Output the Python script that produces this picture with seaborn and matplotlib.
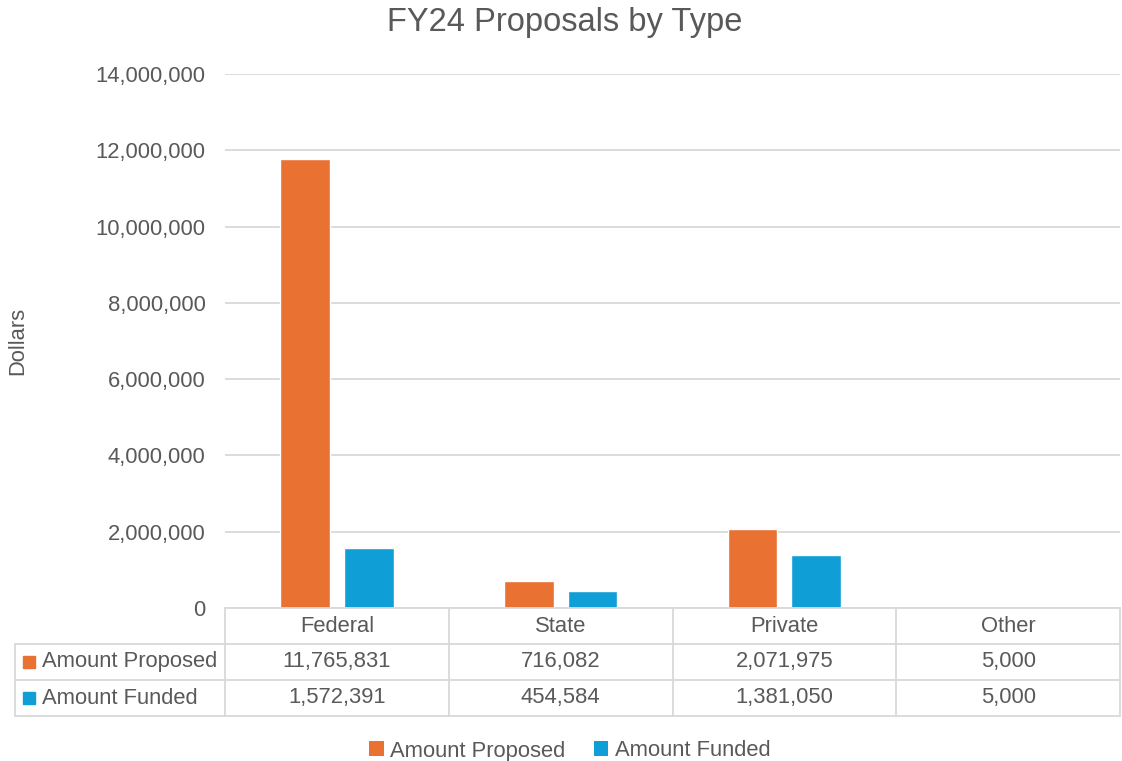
import numpy as np
import pandas as pd
import matplotlib.pyplot as plt
import matplotlib.transforms as mtransforms
from matplotlib.lines import Line2D
from matplotlib.patches import Patch
import seaborn as sns

categories = ['Federal', 'State', 'Private', 'Other']
series_names = ['Amount Proposed', 'Amount Funded']
amount_proposed = [11765831, 716082, 2071975, 5000]
amount_funded = [1572391, 454584, 1381050, 5000]
y_ticks = [0, 2000000, 4000000, 6000000, 8000000, 10000000, 12000000, 14000000]

colors = ['#E97132', '#0F9ED5']
text_color = '#595959'
line_color = '#D9D9D9'
fs = 15.8

df = pd.DataFrame({
    'Type': categories * 2,
    'Series': [series_names[0]] * 4 + [series_names[1]] * 4,
    'Dollars': amount_proposed + amount_funded,
})

sns.set_style('white')
plt.rcParams['font.family'] = ['Liberation Sans', 'DejaVu Sans']

W, H = 1122, 761
fig = plt.figure(figsize=(W / 100, H / 100), dpi=100)
ax = fig.add_axes([225 / W, 1 - 608 / H, (1120 - 225) / W, (608 - 74) / H])

sns.barplot(data=df, x='Type', y='Dollars', hue='Series', palette=colors,
            width=0.57, gap=0.22, legend=False, ax=ax, saturation=1)

ax.set_xlim(-0.5, 3.5)
ax.set_ylim(0, 14000000)
ax.set_yticks(y_ticks)
ax.set_yticklabels([f'{v:,}' for v in y_ticks], color=text_color, fontsize=fs)
ax.tick_params(axis='y', length=0, pad=14)
ax.set_xticks([])
ax.set_xlabel('')
ax.set_ylabel('')
ax.yaxis.grid(True, color=line_color, linewidth=1.3)
ax.set_axisbelow(True)
for s in ax.spines.values():
    s.set_visible(False)

fig.text(18 / W, 1 - 341 / H, 'Dollars', rotation=90, ha='center', va='center',
         color=text_color, fontsize=fs)
fig.text(565 / W, 1 - 22 / H, 'FY24 Proposals by Type', ha='center', va='center',
         color=text_color, fontsize=23.5)

# data table under the chart
trans = mtransforms.blended_transform_factory(ax.transData, fig.transFigure)
fy = lambda p: 1 - p / H
row_y = [626, 662, 698]
for i, cat in enumerate(categories):
    ax.text(i, fy(row_y[0]), cat, transform=trans, ha='center', va='center',
            color=text_color, fontsize=fs, clip_on=False)
    ax.text(i, fy(row_y[1]), f'{amount_proposed[i]:,}', transform=trans, ha='center',
            va='center', color=text_color, fontsize=fs, clip_on=False)
    ax.text(i, fy(row_y[2]), f'{amount_funded[i]:,}', transform=trans, ha='center',
            va='center', color=text_color, fontsize=fs, clip_on=False)

for name, col, y in zip(series_names, colors, row_y[1:]):
    fig.patches.append(plt.Rectangle((23 / W, fy(y + 6)), 12 / W, 12 / H,
                                     transform=fig.transFigure, color=col))
    fig.text(42 / W, fy(y), name, ha='left', va='center', color=text_color, fontsize=fs)

lw = 1.3
fig.add_artist(Line2D([225 / W, 1120 / W], [fy(608), fy(608)], color=line_color, lw=lw))
for y in [644, 680, 716]:
    fig.add_artist(Line2D([15 / W, 1120 / W], [fy(y), fy(y)], color=line_color, lw=lw))
fig.add_artist(Line2D([15 / W, 15 / W], [fy(644), fy(716)], color=line_color, lw=lw))
for b in [-0.5, 0.5, 1.5, 2.5, 3.5]:
    ax.add_artist(Line2D([b, b], [fy(608), fy(716)], transform=trans, color=line_color,
                         lw=lw, clip_on=False))

handles = [Patch(facecolor=c, edgecolor='none') for c in colors]
fig.legend(handles, series_names, loc='center', bbox_to_anchor=(570 / W, fy(751)),
           ncol=2, frameon=False, fontsize=fs, handlelength=0.65, handleheight=0.65,
           handletextpad=0.3, columnspacing=1.3, labelcolor=text_color)

fig.savefig('out.png', dpi=100)
